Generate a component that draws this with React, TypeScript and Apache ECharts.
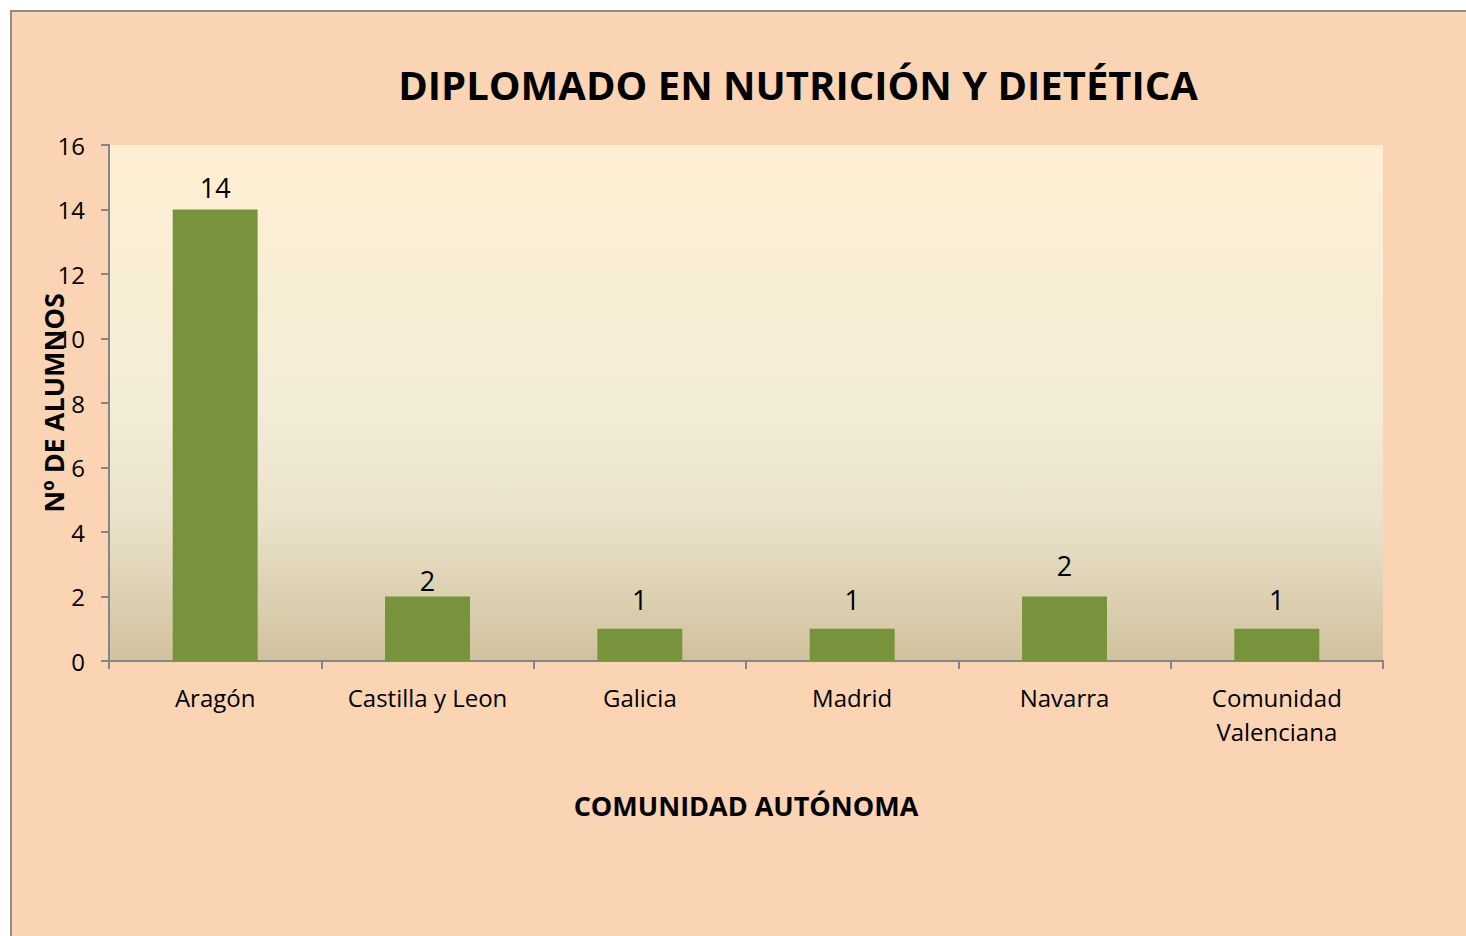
import React, { useEffect, useRef } from "react";
import * as echarts from "echarts";

const categories = ["Aragón", "Castilla y Leon", "Galicia", "Madrid", "Navarra", "Comunidad\nValenciana"];
const values = [14, 2, 1, 1, 2, 1];
const labelDistances = [9, 3, 16, 16, 18, 16];
const yTicks = { min: 0, max: 16, interval: 2 };

const FONT = "'Open Sans', 'Noto Sans', sans-serif";

export default function App() {
  const ref = useRef<HTMLDivElement>(null);
  useEffect(() => {
    const chart = echarts.init(ref.current!, null, { renderer: "svg" });
    chart.setOption({
      animation: false,
      backgroundColor: "#FFFFFF",
      textStyle: { fontFamily: FONT },
      graphic: [
        {
          type: "rect",
          z: -10,
          silent: true,
          shape: { x: 11, y: 11, width: 1470, height: 940 },
          style: { fill: "#FBD4B4", stroke: "#8C8C8C", lineWidth: 2 },
        },
        {
          type: "text",
          x: 798,
          y: 84,
          style: {
            text: "DIPLOMADO EN NUTRICIÓN Y DIETÉTICA",
            fontFamily: FONT,
            fontWeight: "bold",
            fontSize: 40,
            fill: "#000000",
            textAlign: "center",
            textVerticalAlign: "middle",
          },
        },
      ],
      grid: {
        left: 109,
        right: 83,
        top: 145,
        bottom: 275,
        show: true,
        borderWidth: 0,
        backgroundColor: new echarts.graphic.LinearGradient(0, 0, 0, 1, [
          { offset: 0, color: "#FEEFD3" },
          { offset: 0.5, color: "#F3ECD7" },
          { offset: 0.72, color: "#EAE2CA" },
          { offset: 1, color: "#D1C29E" },
        ]),
      },
      xAxis: {
        type: "category",
        data: categories,
        name: "COMUNIDAD AUTÓNOMA",
        nameLocation: "middle",
        nameGap: 131,
        nameMoveOverlap: false,
        nameTextStyle: { fontFamily: FONT, fontWeight: "bold", fontSize: 27, color: "#000" },
        axisLine: { lineStyle: { color: "#868686", width: 2 } },
        axisTick: { show: true, alignWithLabel: false, length: 8, lineStyle: { color: "#868686", width: 2 } },
        axisLabel: { fontFamily: FONT, fontSize: 24, color: "#000", margin: 19, lineHeight: 34, interval: 0 },
      },
      yAxis: {
        type: "value",
        min: yTicks.min,
        max: yTicks.max,
        interval: yTicks.interval,
        name: "Nº DE ALUMNOS",
        nameLocation: "middle",
        nameRotate: 90,
        nameGap: 42,
        nameMoveOverlap: false,
        nameTextStyle: { fontFamily: FONT, fontWeight: "bold", fontSize: 27, color: "#000" },
        axisLine: { show: true, lineStyle: { color: "#868686", width: 2 } },
        axisTick: { show: true, inside: false, length: 8, lineStyle: { color: "#868686", width: 2 } },
        axisLabel: { fontFamily: FONT, fontSize: 24, color: "#000", margin: 24 },
        splitLine: { show: false },
      },
      series: [
        {
          type: "bar",
          barWidth: "40%",
          data: values.map((v, i) => ({
            value: v,
            label: { distance: labelDistances[i] },
          })),
          itemStyle: { color: "#77933C" },
          label: { show: true, position: "top", fontFamily: FONT, fontSize: 27, color: "#000" },
        },
      ],
    });
    return () => chart.dispose();
  }, []);
  return (
    <div
      ref={ref}
      style={{ position: "absolute", left: 0, top: 0, width: 1466, height: 936 }}
    />
  );
}
